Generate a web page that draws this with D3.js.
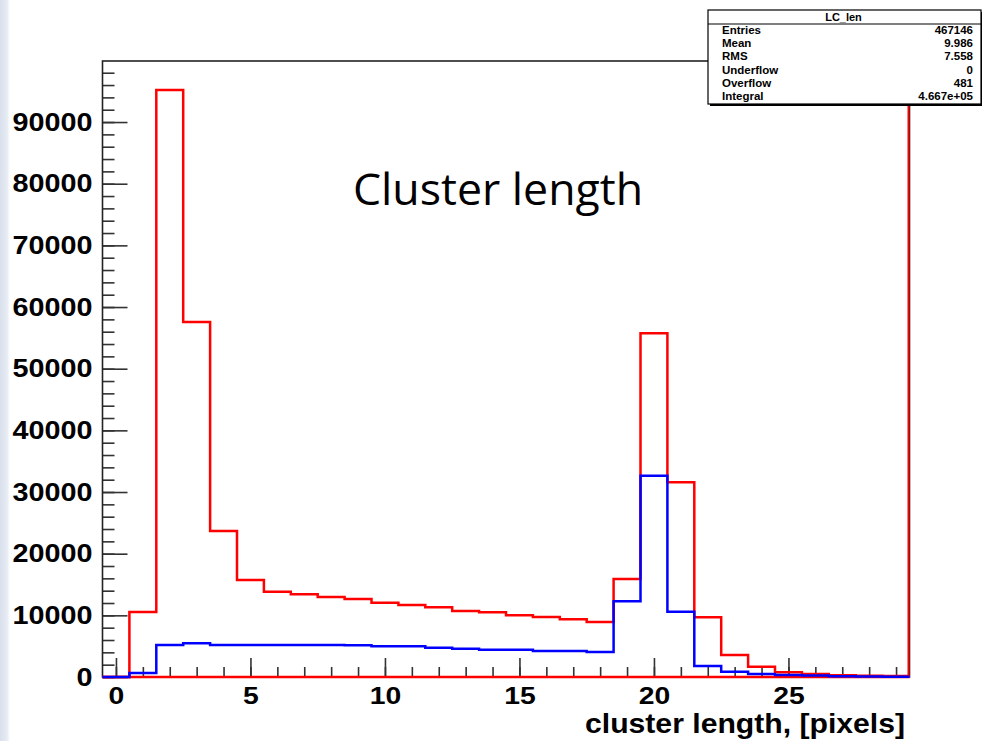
<!DOCTYPE html>
<html>
<head>
<meta charset="utf-8">
<script src="https://cdn.jsdelivr.net/npm/d3@7"></script>
<style>
  body { margin: 0; background: #fff; }
  svg { display: block; }
</style>
</head>
<body>
<div id="chart"></div>
<script>
// bin centres (cluster length in pixels)
var bins = d3.range(0, 30);

// red histogram, counts per bin
var redCounts = [0, 10540, 95180, 57560, 23670, 15730, 13830, 13410, 12970, 12650,
                 12050, 11680, 11300, 10700, 10490, 10000, 9730, 9350, 8920, 15890,
                 55730, 31570, 9680, 3570, 1680, 760, 490, 300, 200, 150];

// blue histogram, counts per bin
var blueCounts = [0, 650, 5190, 5460, 5190, 5190, 5190, 5190, 5190, 5150,
                  4970, 4970, 4760, 4600, 4430, 4430, 4220, 4220, 4050, 12270,
                  32650, 10590, 1780, 870, 490, 320, 250, 130, 90, 60];

var xMajor = [0, 5, 10, 15, 20, 25];
var xMinor = d3.range(0, 30);
var yMajor = [0, 10000, 20000, 30000, 40000, 50000, 60000, 70000, 80000, 90000];
var yMinor = d3.range(0, 99000, 2000);

var statLabels = ["Entries", "Mean", "RMS", "Underflow", "Overflow", "Integral"];
var statValues = ["467146", "9.986", "7.558", "0", "481", "4.667e+05"];

var W = 982, H = 741;
var fLeft = 102.5, fRight = 909.5, fTop = 61, fBottom = 677;

var svg = d3.select("#chart").append("svg")
    .attr("width", W)
    .attr("height", H);

// pale strip at the left border of the slide
var grad = svg.append("defs").append("linearGradient")
    .attr("id", "strip").attr("x1", 0).attr("x2", 1).attr("y1", 0).attr("y2", 0);
grad.append("stop").attr("offset", "0%").attr("stop-color", "#d9e0ec");
grad.append("stop").attr("offset", "70%").attr("stop-color", "#e6ebf3");
grad.append("stop").attr("offset", "100%").attr("stop-color", "#ffffff");
svg.append("rect").attr("x", 0).attr("y", 0).attr("width", 10).attr("height", H)
    .attr("fill", "url(#strip)");

var x = d3.scaleLinear().domain([-0.5, 29.5]).range([fLeft, fRight]);
var y = d3.scaleLinear().domain([0, 99900]).range([fBottom, fTop]);

function stretch(sel, f) {
    sel.each(function () {
        var w = this.getComputedTextLength();
        d3.select(this).attr("textLength", w * f).attr("lengthAdjust", "spacingAndGlyphs");
    });
}

// step outline from bin edges
function stepPoints(counts) {
    var pts = counts.map(function (v, i) { return [bins[i] - 0.5, v]; });
    pts.push([bins[bins.length - 1] + 0.5, counts[counts.length - 1]]);
    return pts;
}

var line = d3.line()
    .x(function (d) { return x(d[0]); })
    .y(function (d) { return y(d[1]); })
    .curve(d3.curveStepAfter);

// axes
var tickStyle = function (g) {
    g.select(".domain").remove();
    g.selectAll(".tick line").attr("stroke", "#333").attr("stroke-width", 1.6);
};

svg.append("g")
    .attr("transform", "translate(0," + fBottom + ")")
    .call(d3.axisBottom(x).tickValues(xMinor).tickSize(-10).tickFormat(""))
    .call(tickStyle);

var xAxis = svg.append("g")
    .attr("transform", "translate(0," + fBottom + ")")
    .call(d3.axisBottom(x).tickValues(xMajor).tickSize(-19).tickPadding(10).tickFormat(d3.format("d")))
    .call(tickStyle);
xAxis.selectAll("text")
    .attr("font-family", "Liberation Sans, Arial, sans-serif")
    .attr("font-weight", "bold")
    .attr("font-size", 24)
    .attr("fill", "#000");
stretch(xAxis.selectAll("text"), 1.18);

svg.append("g")
    .attr("transform", "translate(" + fLeft + ",0)")
    .call(d3.axisLeft(y).tickValues(yMinor).tickSize(-12).tickFormat(""))
    .call(tickStyle);

var yAxis = svg.append("g")
    .attr("transform", "translate(" + fLeft + ",0)")
    .call(d3.axisLeft(y).tickValues(yMajor).tickSize(-25).tickPadding(10).tickFormat(d3.format("d")))
    .call(tickStyle);
yAxis.selectAll("text")
    .attr("font-family", "Liberation Sans, Arial, sans-serif")
    .attr("font-weight", "bold")
    .attr("font-size", 25)
    .attr("fill", "#000");
stretch(yAxis.selectAll("text"), 1.15);

// frame
svg.append("rect")
    .attr("x", fLeft).attr("y", fTop)
    .attr("width", fRight - fLeft).attr("height", fBottom - fTop)
    .attr("fill", "none").attr("stroke", "#222").attr("stroke-width", 1.6);

// red histogram, with its baseline and closing edge
svg.append("line")
    .attr("x1", x(-0.5)).attr("x2", x(29.5))
    .attr("y1", y(0)).attr("y2", y(0))
    .attr("stroke", "#ff0000").attr("stroke-width", 2.5);
svg.append("path")
    .attr("d", line(stepPoints(redCounts)))
    .attr("fill", "none").attr("stroke", "#ff0000").attr("stroke-width", 2.5);
svg.append("line")
    .attr("x1", x(29.5) - 1).attr("x2", x(29.5) - 1)
    .attr("y1", y(0)).attr("y2", y(99900))
    .attr("stroke", "#ff0000").attr("stroke-width", 2);

// blue histogram
svg.append("path")
    .attr("d", line(stepPoints(blueCounts)))
    .attr("fill", "none").attr("stroke", "#0000ff").attr("stroke-width", 2.5);

// title
svg.append("text")
    .attr("x", 353).attr("y", 205)
    .attr("font-family", "Open Sans, Noto Sans, sans-serif")
    .attr("font-size", 44)
    .attr("fill", "#000")
    .attr("textLength", 290)
    .attr("lengthAdjust", "spacingAndGlyphs")
    .text("Cluster length");

// x axis title
svg.append("text")
    .attr("x", 905).attr("y", 733)
    .attr("text-anchor", "end")
    .attr("font-family", "Liberation Sans, Arial, sans-serif")
    .attr("font-weight", "bold")
    .attr("font-size", 28)
    .attr("fill", "#000")
    .attr("textLength", 320)
    .attr("lengthAdjust", "spacingAndGlyphs")
    .text("cluster length, [pixels]");

// stats box
var bx = 708, by = 10, bw = 273, bh = 94;
svg.append("rect").attr("x", bx + 2).attr("y", by + 2).attr("width", bw).attr("height", bh)
    .attr("fill", "#000");
svg.append("rect").attr("x", bx).attr("y", by).attr("width", bw).attr("height", bh)
    .attr("fill", "#fff").attr("stroke", "#000").attr("stroke-width", 1.2);
svg.append("line").attr("x1", bx).attr("x2", bx + bw).attr("y1", 24).attr("y2", 24)
    .attr("stroke", "#000").attr("stroke-width", 1);
svg.append("text")
    .attr("x", bx + bw / 2 - 1).attr("y", 21)
    .attr("text-anchor", "middle")
    .attr("font-family", "Liberation Sans, Arial, sans-serif")
    .attr("font-weight", "bold").attr("font-size", 11)
    .text("LC_len");

var rows = svg.append("g")
    .attr("font-family", "Liberation Sans, Arial, sans-serif")
    .attr("font-weight", "bold").attr("font-size", 11.5);
rows.selectAll("text.lab").data(statLabels).enter().append("text")
    .attr("class", "lab")
    .attr("x", 722)
    .attr("y", function (d, i) { return 34 + i * 13.2; })
    .text(function (d) { return d; });
rows.selectAll("text.val").data(statValues).enter().append("text")
    .attr("class", "val")
    .attr("x", 973)
    .attr("text-anchor", "end")
    .attr("y", function (d, i) { return 34 + i * 13.2; })
    .text(function (d) { return d; });
</script>
</body>
</html>
